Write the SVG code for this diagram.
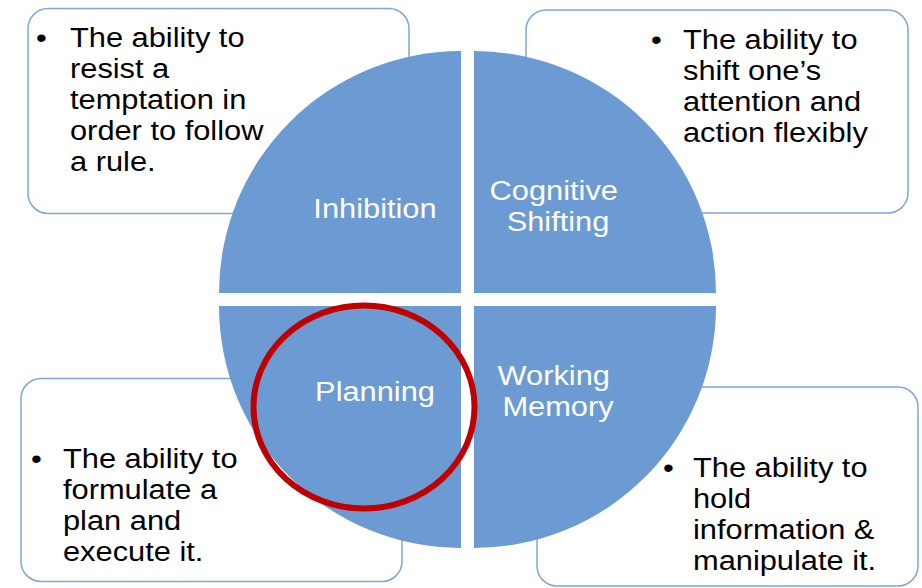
<svg xmlns="http://www.w3.org/2000/svg" width="922" height="588" viewBox="0 0 922 588">
  <style>
    .box { fill: #ffffff; stroke: #7ea6d8; stroke-width: 1.5; }
    .quad { fill: #6b9bd2; }
    .body { font-family: "Liberation Sans", Arial, sans-serif; font-size: 28px; fill: #000000; }
    .label { font-family: "Liberation Sans", Arial, sans-serif; font-size: 28px; fill: #ffffff; text-anchor: middle; }
    .mark { fill: none; stroke: #c00000; stroke-width: 6; }
  </style>
  <rect width="922" height="588" fill="#ffffff"/>

  <g id="desc-inhibition">
    <rect class="box" x="28" y="8.5" width="381" height="205" rx="20"/>
    <text class="body" transform="translate(36 47) scale(1.1 1)">•</text>
    <text class="body" transform="translate(70 47) scale(1.1 1)">
      <tspan x="0" y="0">The ability to</tspan>
      <tspan x="0" y="31">resist a</tspan>
      <tspan x="0" y="62">temptation in</tspan>
      <tspan x="0" y="93">order to follow</tspan>
      <tspan x="0" y="124">a rule.</tspan>
    </text>
  </g>

  <g id="desc-shifting">
    <rect class="box" x="526" y="10" width="382" height="203" rx="20"/>
    <text class="body" transform="translate(651 49) scale(1.1 1)">•</text>
    <text class="body" transform="translate(683 49) scale(1.1 1)">
      <tspan x="0" y="0">The ability to</tspan>
      <tspan x="0" y="31">shift one’s</tspan>
      <tspan x="0" y="62">attention and</tspan>
      <tspan x="0" y="93">action flexibly</tspan>
    </text>
  </g>

  <g id="desc-planning">
    <rect class="box" x="21" y="378.5" width="381" height="203" rx="20"/>
    <text class="body" transform="translate(31 468) scale(1.1 1)">•</text>
    <text class="body" transform="translate(63 468) scale(1.1 1)">
      <tspan x="0" y="0">The ability to</tspan>
      <tspan x="0" y="31">formulate a</tspan>
      <tspan x="0" y="62">plan and</tspan>
      <tspan x="0" y="93">execute it.</tspan>
    </text>
  </g>

  <g id="desc-working-memory">
    <rect class="box" x="537" y="387" width="381" height="199" rx="20"/>
    <text class="body" transform="translate(663 477) scale(1.1 1)">•</text>
    <text class="body" transform="translate(693 477) scale(1.1 1)">
      <tspan x="0" y="0">The ability to</tspan>
      <tspan x="0" y="31">hold</tspan>
      <tspan x="0" y="62">information &amp;</tspan>
      <tspan x="0" y="93">manipulate it.</tspan>
    </text>
  </g>

  <g id="inhibition">
    <path class="quad" d="M461,293 L219,293 A242,242 0 0 1 461,51 Z"/>
    <text class="label" transform="translate(375 218) scale(1.1 1)">Inhibition</text>
  </g>

  <g id="cognitive-shifting">
    <path class="quad" d="M474,293 L474,51 A242,242 0 0 1 716,293 Z"/>
    <text class="label" transform="translate(558 200) scale(1.1 1)">
      <tspan x="0" y="0">Cognitive</tspan>
      <tspan x="0" y="31">Shifting</tspan>
    </text>
  </g>

  <g id="planning">
    <path class="quad" d="M461,306 L461,548 A242,242 0 0 1 219,306 Z"/>
    <text class="label" transform="translate(375 401) scale(1.1 1)">Planning</text>
  </g>

  <g id="working-memory">
    <path class="quad" d="M474,306 L716,306 A242,242 0 0 1 474,548 Z"/>
    <text class="label" transform="translate(558 385) scale(1.1 1)">
      <tspan x="0" y="0">Working</tspan>
      <tspan x="0" y="31">Memory</tspan>
    </text>
  </g>

  <g id="connectors"></g>

  <g id="highlight">
    <ellipse class="mark" cx="364" cy="407" rx="110.5" ry="101.5"/>
  </g>
</svg>
